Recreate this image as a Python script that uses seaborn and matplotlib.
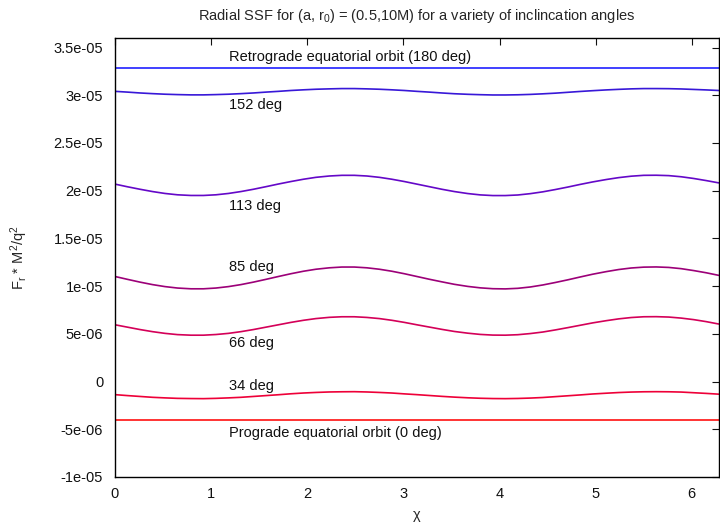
import numpy as np
import pandas as pd
import matplotlib
matplotlib.use("Agg")
import matplotlib.pyplot as plt
from matplotlib.ticker import FuncFormatter, MultipleLocator
import seaborn as sns

# ---- data (values in units of 1e-6) ----
chi = [0.00, 0.13, 0.26, 0.39, 0.52, 0.65, 0.79, 0.92, 1.05, 1.18, 1.31, 1.44, 1.57,
       1.70, 1.83, 1.96, 2.09, 2.23, 2.36, 2.49, 2.62, 2.75, 2.88, 3.01, 3.14,
       3.27, 3.40, 3.53, 3.67, 3.80, 3.93, 4.06, 4.19, 4.32, 4.45, 4.58, 4.71,
       4.84, 4.97, 5.11, 5.24, 5.37, 5.50, 5.63, 5.76, 5.89, 6.02, 6.15, 6.28]

deg180 = [32.9] * 49
deg152 = [30.41, 30.33, 30.24, 30.17, 30.11, 30.07, 30.04, 30.04, 30.07, 30.11, 30.17, 30.24, 30.33,
          30.41, 30.50, 30.57, 30.63, 30.67, 30.70, 30.70, 30.67, 30.63, 30.57, 30.50, 30.41,
          30.33, 30.24, 30.16, 30.10, 30.06, 30.03, 30.03, 30.05, 30.09, 30.15, 30.22, 30.31,
          30.40, 30.48, 30.56, 30.62, 30.67, 30.70, 30.70, 30.69, 30.66, 30.61, 30.56, 30.50]
deg113 = [20.69, 20.41, 20.15, 19.91, 19.71, 19.57, 19.50, 19.50, 19.57, 19.71, 19.91, 20.15, 20.42,
          20.70, 20.96, 21.20, 21.40, 21.54, 21.61, 21.61, 21.54, 21.40, 21.20, 20.96, 20.69,
          20.42, 20.15, 19.91, 19.70, 19.56, 19.49, 19.49, 19.55, 19.69, 19.88, 20.12, 20.38,
          20.66, 20.92, 21.17, 21.37, 21.52, 21.61, 21.62, 21.58, 21.46, 21.28, 21.06, 20.82]
deg85 = [11.01, 10.71, 10.42, 10.16, 9.95, 9.80, 9.72, 9.72, 9.80, 9.95, 10.16, 10.42, 10.71,
         11.01, 11.30, 11.56, 11.77, 11.92, 12.00, 12.00, 11.92, 11.77, 11.56, 11.30, 11.01,
         10.72, 10.45, 10.19, 9.97, 9.82, 9.73, 9.71, 9.77, 9.91, 10.12, 10.38, 10.66,
         10.96, 11.25, 11.52, 11.74, 11.90, 11.99, 12.01, 11.96, 11.83, 11.63, 11.40, 11.13]
deg66 = [5.95, 5.70, 5.45, 5.23, 5.05, 4.92, 4.86, 4.86, 4.93, 5.05, 5.23, 5.45, 5.70,
         5.95, 6.20, 6.42, 6.60, 6.73, 6.79, 6.79, 6.72, 6.60, 6.42, 6.20, 5.95,
         5.71, 5.47, 5.25, 5.07, 4.94, 4.87, 4.86, 4.91, 5.03, 5.19, 5.41, 5.65,
         5.90, 6.15, 6.38, 6.57, 6.71, 6.79, 6.80, 6.76, 6.65, 6.49, 6.28, 6.03]
deg34 = [-1.37, -1.47, -1.56, -1.65, -1.71, -1.76, -1.78, -1.79, -1.76, -1.71, -1.65, -1.56, -1.47,
         -1.38, -1.28, -1.20, -1.14, -1.09, -1.07, -1.06, -1.09, -1.14, -1.20, -1.29, -1.37,
         -1.46, -1.55, -1.63, -1.70, -1.75, -1.78, -1.79, -1.77, -1.73, -1.67, -1.58, -1.49,
         -1.40, -1.30, -1.22, -1.15, -1.10, -1.07, -1.06, -1.07, -1.10, -1.17, -1.24, -1.32]
deg0 = [-4.0] * 49
SCALE = 1e-6

series_names = ["180", "152", "113", "85", "66", "34", "0"]
series_vals = [deg180, deg152, deg113, deg85, deg66, deg34, deg0]
colors = ["#2020ff", "#3818d8", "#6408c8", "#9c0078", "#d40058", "#ee0038", "#ff1010"]

labels = ["Retrograde equatorial orbit (180 deg)", "152 deg", "113 deg", "85 deg",
          "66 deg", "34 deg", "Prograde equatorial orbit (0 deg)"]
label_y = [34.0, 29.0, 18.4, 12.0, 4.0, -0.46, -5.4]
label_x = 1.19

rows = []
for name, vals in zip(series_names, series_vals):
    for c, v in zip(chi, vals):
        rows.append({"chi": c, "F": v * SCALE, "angle": name})
df = pd.DataFrame(rows)

sns.set_theme(style="white")
plt.rcParams["font.family"] = ["Liberation Sans", "DejaVu Sans"]
plt.rcParams["mathtext.fontset"] = "custom"
plt.rcParams["mathtext.rm"] = "Liberation Sans"
plt.rcParams["mathtext.it"] = "Liberation Sans"

FS = 10.5
fig = plt.figure(figsize=(7.2, 5.22), dpi=100)
ax = fig.add_axes([115 / 720, 45 / 522, 604 / 720, 439 / 522])

sns.lineplot(data=df, x="chi", y="F", hue="angle", hue_order=series_names,
             palette=colors, linewidth=1.2, legend=False, ax=ax, sort=True)

for t, y in zip(labels, label_y):
    ax.text(label_x, y * SCALE, t, fontsize=FS, ha="left", va="center", color="#111111")

ax.set_xlim(0, 6.2832)
ax.set_ylim(-1e-5, 3.6e-5)
ax.xaxis.set_major_locator(MultipleLocator(1))
ax.yaxis.set_major_locator(MultipleLocator(5e-6))
ax.yaxis.set_major_formatter(FuncFormatter(lambda v, p: "0" if abs(v) < 1e-12 else "%g" % v))

ax.tick_params(direction="in", length=5, width=0.8, top=True, right=True,
               labelsize=FS, colors="#111111")
ax.tick_params(axis="y", pad=8.5)
ax.tick_params(axis="x", pad=7)
for s in ax.spines.values():
    s.set_color("black")
    s.set_linewidth(1.0)

ax.set_xlabel("χ", fontsize=FS, labelpad=5)
ax.set_ylabel(r"F$_{\rm r}$ * M$^{\rm 2}$/q$^{\rm 2}$", fontsize=FS, labelpad=17)
ax.set_title("Radial SSF for (a, r$_{\\rm 0}$) = (0.5,10M) for a variety of inclincation angles",
             fontsize=FS, pad=13)

fig.savefig("out.png", dpi=100)
